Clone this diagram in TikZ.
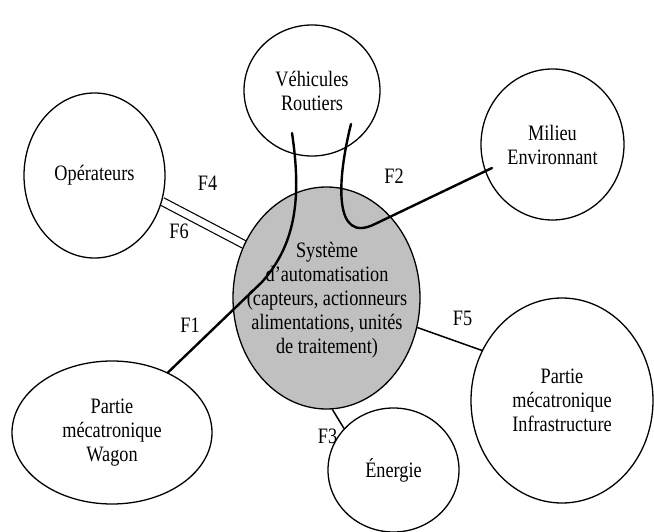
\documentclass[tikz,border=0pt]{standalone}
\usepackage{fontspec}
\setmainfont{Liberation Serif}[FakeStretch=0.83]
\usetikzlibrary{shapes.geometric,backgrounds}
\definecolor{sysgray}{RGB}{192,192,192}
\newcommand\diagfont{\fontsize{22}{24}\selectfont}
\begin{document}
\begin{tikzpicture}[x=1pt,y=-1pt,
  bubble/.style={ellipse, draw, line width=1.3pt, fill=white, inner sep=0pt, align=center, font=\diagfont},
  txt/.style={inner sep=0pt, align=center, font=\diagfont},
  flabel/.style={inner sep=0pt, font=\diagfont},
  fcurve/.style={line width=2.4pt, line cap=round},
  flink/.style={line width=1.5pt},
  dbl/.style={double, double distance=6.8pt, line width=1.2pt}]
\useasboundingbox (0,0) rectangle (654,532);

% nodes
\node[bubble, minimum width=136pt, minimum height=131pt] (veh) at (312,90.5) {Véhicules\\Routiers};
\node[bubble, minimum width=141pt, minimum height=165pt] (oper) at (94.5,175.5) {Opérateurs};
\node[bubble, minimum width=143pt, minimum height=151pt] (mil) at (552.5,144.5) {Milieu\\Environnant};
\node[bubble, fill=sysgray, minimum width=187pt, minimum height=222pt] (sys) at (326.5,298) {};
\node[bubble, minimum width=200pt, minimum height=143pt] (wag) at (112,432.5) {Partie\\mécatronique\\Wagon};
\node[bubble, minimum width=182pt, minimum height=205pt] (inf) at (562,400.5) {Partie\\mécatronique\\Infrastructure};
\node[bubble, minimum width=131pt, minimum height=124pt] (ene) at (393.5,470) {Énergie};
\node[txt] (systxt) at (327,300.5) {Système\\d'automatisation\\(capteurs, actionneurs\\alimentations, unités\\de traitement)};

% connectors
\begin{scope}[on background layer]
  \draw[dbl] (oper.-21) -- (sys.147);
\end{scope}
\draw[flink] (sys.-18) -- (inf.148);
\draw[flink] (sys.-87) -- (ene.140);

\coordinate (v1) at (292,133);
\coordinate (v2) at (351,124);
\coordinate (m2) at (492,168);
\draw[fcurve] (v1) .. controls (302,200) and (295,245) .. (262,282) -- (wag.47);
\draw[fcurve] (v2) .. controls (337,180) and (333,245) .. (375,224) -- (m2);

% labels
\node[flabel] (f4) at (207.5,183) {F4};
\node[flabel] (f6) at (179,231) {F6};
\node[flabel] (f2) at (394,176) {F2};
\node[flabel] (f1) at (190,325) {F1};
\node[flabel] (f5) at (462.5,318.5) {F5};
\node[flabel] (f3) at (327.5,436.5) {F3};
\end{tikzpicture}
\end{document}
